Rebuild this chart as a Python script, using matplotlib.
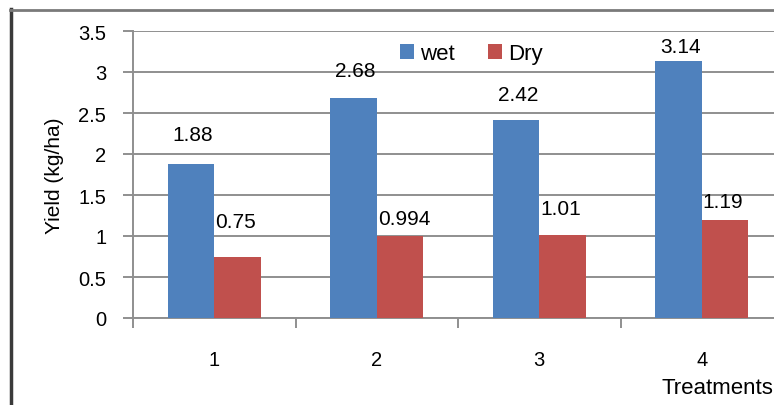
import matplotlib
matplotlib.use("Agg")
import matplotlib.pyplot as plt
from matplotlib.lines import Line2D
from matplotlib.patches import Patch
import numpy as np

treatments = ["1", "2", "3", "4"]
wet = [1.88, 2.68, 2.42, 3.14]
dry = [0.75, 0.994, 1.01, 1.19]
wet_labels = ["1.88", "2.68", "2.42", "3.14"]
dry_labels = ["0.75", "0.994", "1.01", "1.19"]

BLUE = "#4F81BD"
RED = "#C0504D"
GRID = "#8f8f8f"

plt.rcParams["font.family"] = ["Liberation Sans", "DejaVu Sans"]

fig = plt.figure(figsize=(7.74, 4.06), dpi=100)
ax = fig.add_axes([133 / 774, 87 / 406, 650 / 774, 287 / 406])

x = np.arange(len(treatments))
w = 0.286
bars_wet = ax.bar(x - w / 2, wet, w, color=BLUE, zorder=3)
bars_dry = ax.bar(x + w / 2, dry, w, color=RED, zorder=3)

# data labels were hand-placed in the original, offsets in pixels
wet_off = [29, 28, 25, 14]
dry_off = [35, 18, 27, 19]
for b, lab, off in zip(bars_wet, wet_labels, wet_off):
    ax.annotate(lab, (b.get_x() + b.get_width() / 2, b.get_height()),
                xytext=(2, off), textcoords="offset pixels",
                ha="center", va="center", fontsize=15)
for b, lab, off in zip(bars_dry, dry_labels, dry_off):
    ax.annotate(lab, (b.get_x(), b.get_height()),
                xytext=(1, off), textcoords="offset pixels",
                ha="left", va="center", fontsize=15)

ax.set_xlim(-0.5, 3.5)
ax.set_ylim(0, 3.5)
yt = np.arange(0, 3.51, 0.5)
ax.set_yticks(yt)
ax.set_yticklabels([f"{v:g}" for v in yt])
ax.set_xticks(x)
ax.set_xticklabels(treatments)
ax.set_xticks(np.arange(-0.5, 3.6, 1), minor=True)

ax.yaxis.grid(True, color=GRID, linewidth=1.4, zorder=0)
ax.set_axisbelow(True)
for s in ["top", "right"]:
    ax.spines[s].set_visible(False)
for s in ["left", "bottom"]:
    ax.spines[s].set_color(GRID)
    ax.spines[s].set_linewidth(1.4)

ax.tick_params(axis="y", direction="out", length=7.2, width=1.4, color=GRID,
               pad=12, labelsize=14.5)
ax.tick_params(axis="x", which="major", length=0, pad=23, labelsize=14.5)
ax.tick_params(axis="x", which="minor", direction="out", length=7.2,
               width=1.4, color=GRID)

ax.set_ylabel("Yield (kg/ha)", fontsize=15, labelpad=10)
fig.text(773 / 774, 1 - 389 / 406, "Treatments", ha="right", va="center",
         fontsize=16)

handles = [Patch(facecolor=BLUE), Patch(facecolor=RED)]
ax.legend(handles, ["wet", "Dry"], loc="center", bbox_to_anchor=(0.52, 0.92),
          ncol=2, frameon=False, fontsize=16, handlelength=0.65,
          handleheight=0.65, handletextpad=0.25, columnspacing=1.5)

# outer frame of the original screenshot
fig.add_artist(Line2D([11 / 774, 11 / 774], [0, 1 - 10 / 406],
                      transform=fig.transFigure, color="#3a3a3a", lw=2.5))
fig.add_artist(Line2D([10 / 774, 1], [1 - 11 / 406, 1 - 11 / 406],
                      transform=fig.transFigure, color="#7a7a7a", lw=2))

fig.savefig("out.png", dpi=100)
